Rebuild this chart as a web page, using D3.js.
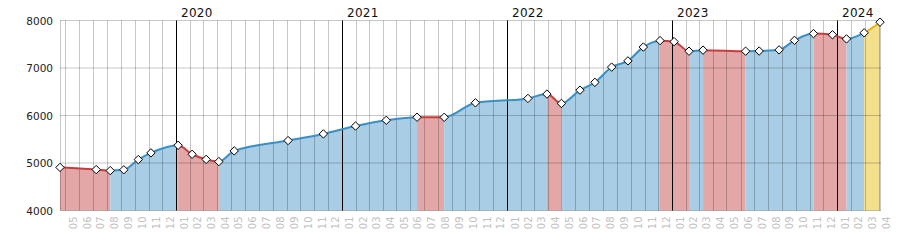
<!DOCTYPE html>
<html><head><meta charset="utf-8">
<script src="https://cdn.jsdelivr.net/npm/d3@7"></script>
<style>
body{margin:0;background:#fff}
svg{display:block}
text{font-family:"DejaVu Sans",sans-serif}
</style>
</head><body>
<svg id="c" width="900" height="250"></svg>
<script>
const dates = ["2019-04-17","2019-07-06","2019-08-06","2019-09-05","2019-10-07","2019-11-04",
  "2020-01-03","2020-02-03","2020-03-05","2020-04-02","2020-05-06","2020-09-02","2020-11-19",
  "2021-01-29","2021-04-07","2021-06-14","2021-08-13","2021-10-21",
  "2022-02-14","2022-03-28","2022-04-29","2022-06-09","2022-07-12","2022-08-18","2022-09-23","2022-10-27","2022-12-03",
  "2023-01-03","2023-02-05","2023-03-08","2023-06-10","2023-07-10","2023-08-23","2023-09-26","2023-11-07","2023-12-19",
  "2024-01-19","2024-02-27","2024-04-02"];
const values = [4907,4861,4840,4857,5072,5213,
  5373,5184,5076,5030,5255,5473,5612,
  5778,5899,5964,5962,6268,
  6359,6451,6253,6534,6698,7019,7150,7441,7576,
  7555,7354,7376,7354,7357,7382,7582,7724,7700,
  7612,7741,7965];
const yTicks = [4000,5000,6000,7000,8000];
const yearTicks = ["2020","2021","2022","2023","2024"];

const colors = {
  up:{fill:"#a8cde4", line:"#3a8fc6"},
  down:{fill:"#e4a7a7", line:"#c83c3c"},
  latest:{fill:"#f3df8c", line:"#e8b410"}
};

const parse = d3.timeParse("%Y-%m-%d");
const data = dates.map((d,i)=>({date:parse(d), value:values[i]}));
const L=60, R=880, T=20.5, B=210.5;
const x = d3.scaleTime().domain([data[0].date, data[data.length-1].date]).range([L,R]);
const y = d3.scaleLinear().domain([4000,8000]).range([B,T]);

const svg = d3.select("#c");
const defs = svg.append("defs");

const n = data.length;
const runs = [];
for(let i=0;i<n-1;i++){
  const kind = i===n-2 ? "latest" : (values[i+1] < values[i] ? "down" : "up");
  if(runs.length && runs[runs.length-1].kind===kind) runs[runs.length-1].end=i+1;
  else runs.push({kind, start:i, end:i+1});
}
runs.forEach((r,k)=>{
  defs.append("clipPath").attr("id","clip"+k).append("rect")
    .attr("x", x(data[r.start].date)).attr("y", 0)
    .attr("width", x(data[r.end].date)-x(data[r.start].date)).attr("height", 250);
});

const area = d3.area().x(d=>x(d.date)).y0(y(4000)).y1(d=>y(d.value)).curve(d3.curveMonotoneX);
const line = d3.line().x(d=>x(d.date)).y(d=>y(d.value)).curve(d3.curveMonotoneX);

const gArea = svg.append("g");
runs.forEach((r,k)=>{
  gArea.append("path").attr("d", area(data)).attr("fill", colors[r.kind].fill)
    .attr("clip-path","url(#clip"+k+")");
});

const grid = svg.append("g").attr("stroke","rgba(0,0,0,0.22)").attr("stroke-width",1);
const endMonth = d3.timeMonth.floor(x.domain()[1]);
const months = d3.timeMonth.range(d3.timeMonth.ceil(x.domain()[0]), d3.timeMonth.offset(endMonth,1));
months.forEach(m=>{
  const px = Math.round(x(m)) - 0.5;
  if(px <= R+0.5) grid.append("line").attr("x1",px).attr("x2",px).attr("y1",T).attr("y2",B);
});
grid.append("line").attr("x1",L+0.5).attr("x2",L+0.5).attr("y1",T).attr("y2",B);
grid.append("line").attr("x1",R+0.5).attr("x2",R+0.5).attr("y1",T).attr("y2",B);
yTicks.forEach(v=>{
  grid.append("line").attr("x1",L).attr("x2",R+1).attr("y1",y(v)).attr("y2",y(v));
});

const years = yearTicks.map(s=>d3.timeParse("%Y")(s));
svg.append("g").selectAll("line").data(years).join("line")
  .attr("x1",d=>Math.round(x(d))-0.5).attr("x2",d=>Math.round(x(d))-0.5)
  .attr("y1",T).attr("y2",B).attr("stroke","#000").attr("stroke-width",1);

const gLine = svg.append("g");
runs.forEach((r,k)=>{
  gLine.append("path").attr("d", line(data)).attr("fill","none")
    .attr("stroke", colors[r.kind].line).attr("stroke-width",2)
    .attr("clip-path","url(#clip"+k+")");
});

svg.append("g").selectAll("path").data(data).join("path")
  .attr("transform", d=>`translate(${x(d.date)},${y(d.value)})`)
  .attr("d","M0,-4.2L4.2,0L0,4.2L-4.2,0Z")
  .attr("fill","#fff").attr("stroke","#000").attr("stroke-width",1);

svg.append("g").selectAll("text").data(yTicks).join("text")
  .attr("x",53).attr("y",d=>y(d)+4).attr("text-anchor","end")
  .attr("font-size","10.5px").attr("fill","#222").text(d=>d);

svg.append("g").selectAll("text").data(years).join("text")
  .attr("x",d=>Math.round(x(d))+4).attr("y",17)
  .attr("font-size","12px").attr("fill","#111").attr("letter-spacing","0.3px")
  .text((d,i)=>yearTicks[i]);

const fmt = d3.timeFormat("%m");
svg.append("g").selectAll("text").data(months).join("text")
  .attr("transform", d=>{
    const mid = new Date((+d + +d3.timeMonth.offset(d,1))/2);
    return `translate(${x(mid)+3.5},216.5) rotate(-90)`;
  })
  .attr("text-anchor","end").attr("font-size","10px").attr("fill","#c2c2c2")
  .text(d=>fmt(d));
</script>
</body></html>
